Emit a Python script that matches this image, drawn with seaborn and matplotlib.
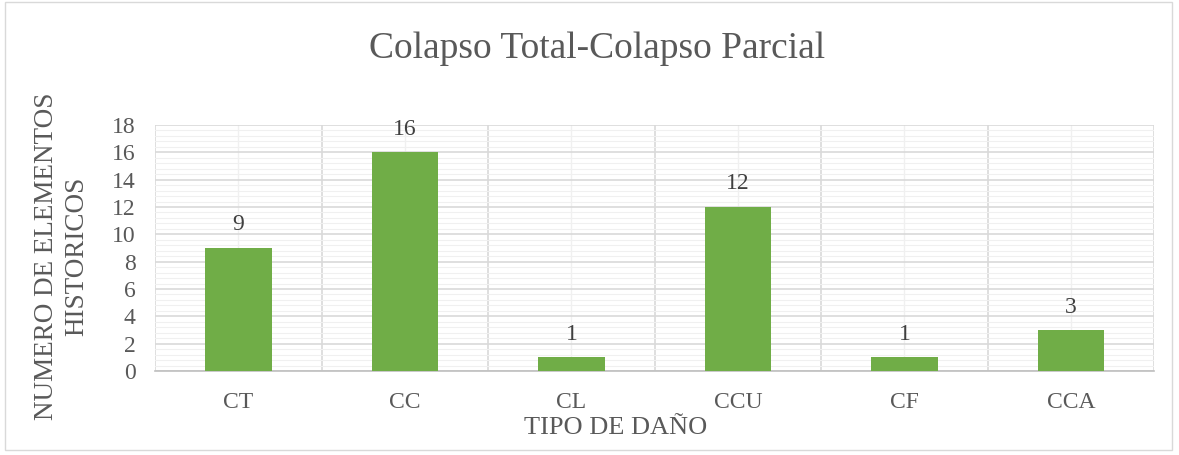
import matplotlib
matplotlib.use("Agg")
import matplotlib.pyplot as plt
import seaborn as sns
import numpy as np
import pandas as pd
from matplotlib.ticker import MultipleLocator
from matplotlib.patches import Rectangle

categories = ["CT", "CC", "CL", "CCU", "CF", "CCA"]
values = [9, 16, 1, 12, 1, 3]
title = "Colapso Total-Colapso Parcial"
ylabel = "NUMERO DE ELEMENTOS\nHISTORICOS"
xlabel = "TIPO DE DAÑO"

sns.set_style("white")
plt.rcParams["font.family"] = ["Liberation Serif", "DejaVu Serif"]

df = pd.DataFrame({"cat": categories, "val": values})

fig = plt.figure(figsize=(11.79, 4.55), dpi=100)
ax = fig.add_axes([0.1315, 0.1846, 0.8475, 0.5407])

sns.barplot(data=df, x="cat", y="val", color="#70AD47", saturation=1, width=0.4,
            linewidth=0, ax=ax, zorder=3)

ax.set_ylim(0, 18)
ax.set_xlim(-0.5, len(categories) - 0.5)
ax.yaxis.set_major_locator(MultipleLocator(2))
ax.yaxis.set_minor_locator(MultipleLocator(0.4))
ax.set_xticks(np.arange(len(categories)))
ax.set_xticks(np.arange(len(categories) + 1) - 0.5, minor=True)

ax.grid(which="major", axis="y", color="#D9D9D9", linewidth=1.2, zorder=0)
ax.grid(which="minor", axis="y", color="#F0F0F0", linewidth=0.8, zorder=0)
ax.grid(which="minor", axis="x", color="#D9D9D9", linewidth=1.2, zorder=0)
ax.grid(which="major", axis="x", color="#F0F0F0", linewidth=1.0, zorder=0)
ax.set_axisbelow(True)

for s in ax.spines.values():
    s.set_visible(False)
ax.spines["bottom"].set_visible(True)
ax.spines["bottom"].set_color("#BFBFBF")
ax.spines["bottom"].set_linewidth(1.2)

ax.tick_params(axis="both", which="both", length=0, colors="#595959", labelsize=17)
ax.tick_params(axis="x", pad=15)
ax.tick_params(axis="y", pad=14)

for c in ax.containers:
    ax.bar_label(c, labels=[str(v) for v in values], padding=9, fontsize=17, color="#404040")

ax.set_xlabel(xlabel, fontsize=19, color="#595959")
ax.xaxis.set_label_coords(0.461, -0.185)
ax.set_ylabel("")
fig.text(0.0522, 0.4374, ylabel, fontsize=19.5, color="#595959", rotation=90,
         ha="center", va="center", multialignment="center", linespacing=1.25)
fig.text(0.506, 0.893, title, fontsize=27, color="#595959", ha="center", va="center")

fig.add_artist(Rectangle((0.004, 0.01), 0.99, 0.985, transform=fig.transFigure,
                         fill=False, edgecolor="#D9D9D9", linewidth=1))

fig.savefig("out.png", dpi=100)
